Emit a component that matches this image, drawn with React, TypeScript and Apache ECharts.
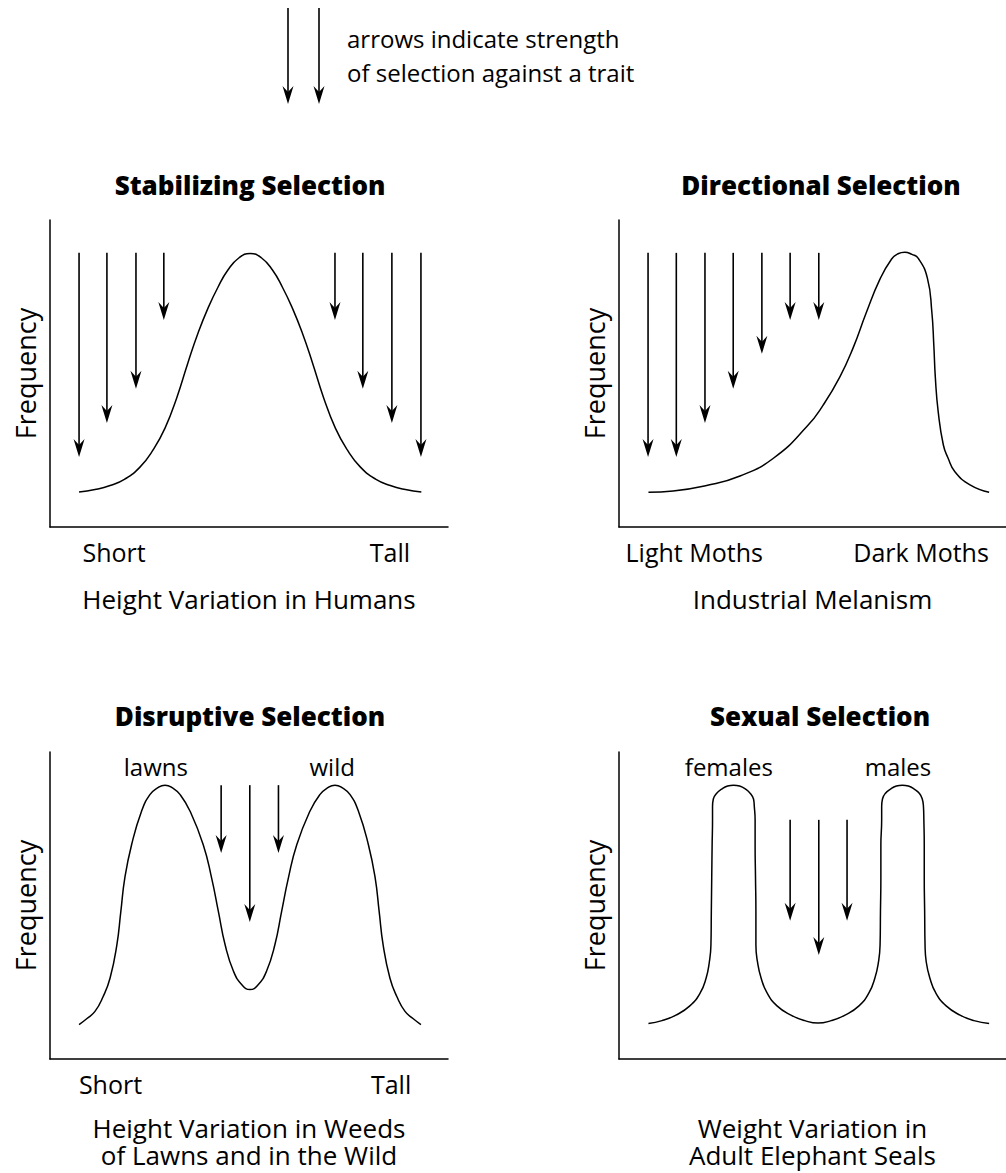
import React, { useEffect, useRef } from 'react';
import * as echarts from 'echarts';

const FONT = "'Open Sans', 'Noto Sans', sans-serif";

// ---- texts ----
const panelTitles = ['Stabilizing Selection', 'Directional Selection', 'Disruptive Selection', 'Sexual Selection'];
const panelCaptions = [
  'Height Variation in Humans',
  'Industrial Melanism',
  'Height Variation in Weeds\nof Lawns and in the Wild',
  'Weight Variation in\nAdult Elephant Seals',
];
const yAxisName = 'Frequency';
const legendText = 'arrows indicate strength\nof selection against a trait';

// ---- x-axis tick labels (value positions + texts) ----
const tickPositions = [[16.1, 85.4], [18.9, 75.9], [15.2, 85.7], []];
const tickTexts = [['Short', 'Tall'], ['Light Moths', 'Dark Moths'], ['Short', 'Tall'], []];

// ---- curves [trait value, frequency] ----
const stabilizingCurve = [
  [7.3, 11.4], [11.3, 12.2], [15.1, 13.5], [18.8, 15.6], [22.6, 19.5], [25.9, 25.1],
  [28.9, 32.2], [31.9, 42.3], [34.7, 53.7], [37.2, 63.2], [39.7, 71.3], [42.2, 78.1],
  [44.7, 83.7], [47.5, 87.7], [50.3, 89.1],
  [53.1, 87.7], [55.9, 83.7], [58.4, 78.1], [60.9, 71.3], [63.4, 63.2], [65.9, 53.7],
  [68.7, 42.3], [71.7, 32.2], [74.7, 25.1], [78.0, 19.5], [81.8, 15.6], [85.5, 13.5],
  [89.3, 12.2], [93.3, 11.4],
];
const directionalCurve = [
  [7.4, 11.3], [13.6, 11.7], [22.0, 13.5], [30.4, 16.6], [38.8, 22.4], [47.2, 32.7],
  [51.3, 39.7], [55.5, 48.9], [58.9, 58.6], [62.1, 69.7], [65.6, 80.8], [68.5, 87.3],
  [70.1, 89.0], [71.8, 89.5], [73.6, 88.8], [75.2, 87.5], [77.5, 81.0], [78.6, 70.1],
  [79.1, 59.3], [79.5, 48.4], [80.2, 37.6], [81.5, 26.7], [82.7, 22.4], [84.4, 18.0],
  [88.2, 13.7], [93.0, 11.3],
];
const disruptiveCurve = [
  [7.3, 11.2], [9.3, 13.2], [11.3, 15.5], [13.3, 20.2], [15.1, 26.4], [16.8, 37.2],
  [17.8, 48.1], [18.8, 59.0], [20.5, 69.8], [23.0, 80.7], [25.1, 86.1], [27.0, 88.3],
  [28.9, 89.2], [30.8, 88.3], [32.7, 86.1], [35.2, 80.7], [38.5, 69.8], [40.6, 59.0],
  [42.3, 48.1], [44.0, 37.2], [46.1, 28.6], [48.2, 24.2], [50.25, 22.6],
  [52.3, 24.2], [54.4, 28.6], [56.5, 37.2], [58.2, 48.1], [59.9, 59.0], [62.0, 69.8],
  [65.3, 80.7], [67.8, 86.1], [69.7, 88.3], [71.6, 89.2], [73.5, 88.3], [75.4, 86.1],
  [77.5, 80.7], [80.0, 69.8], [81.7, 59.0], [82.7, 48.1], [83.7, 37.2], [85.4, 26.4],
  [87.2, 20.2], [89.2, 15.5], [91.2, 13.2], [93.2, 11.2],
];
const sexualCurve = [
  [7.4, 11.6], [10.8, 12.5], [14.3, 14.3], [17.8, 17.3], [20.4, 21.5], [21.9, 26.4],
  [22.7, 31.6], [23.1, 37.1], [23.2, 48.2], [23.3, 59.0], [23.4, 69.7], [23.5, 77.9],
  [23.5, 82.2], [23.7, 84.7], [24.5, 86.5], [25.8, 87.9], [27.3, 88.9], [28.8, 89.2],
  [30.3, 88.9], [31.8, 87.9], [33.0, 86.5], [33.8, 84.7], [34.0, 82.2], [34.2, 77.9],
  [34.2, 69.7], [34.3, 59.0], [34.4, 48.2], [34.4, 37.1], [34.8, 31.6], [35.7, 26.4],
  [37.2, 21.5], [39.7, 17.3], [43.2, 14.3], [46.7, 12.5], [50.0, 11.7],
  [53.3, 12.5], [56.8, 14.3], [60.3, 17.3], [62.8, 21.5], [64.3, 26.4], [65.2, 31.6],
  [65.6, 37.1], [65.7, 48.2], [65.8, 59.0], [65.8, 69.7], [66.0, 77.9], [66.0, 82.2],
  [66.2, 84.7], [66.9, 86.5], [68.2, 87.9], [69.7, 88.9], [71.2, 89.2], [72.7, 88.9],
  [74.2, 87.9], [75.5, 86.5], [76.2, 84.7], [76.5, 82.2], [76.6, 77.9], [76.7, 69.7],
  [76.7, 59.0], [76.8, 48.2], [76.9, 37.1], [77.2, 31.6], [78.1, 26.4], [79.6, 21.5],
  [82.2, 17.3], [85.7, 14.3], [89.2, 12.5], [93.0, 11.6],
];

// ---- selection arrows [trait value, arrow start, arrow tip] ----
const stabilizingArrows = [
  [7.3, 89.3, 22.8], [14.3, 89.3, 33.9], [21.6, 89.3, 45.0], [28.6, 89.3, 67.4],
  [71.6, 89.3, 67.4], [78.6, 89.3, 45.0], [85.9, 89.3, 33.9], [93.2, 89.3, 22.8],
];
const directionalArrows = [
  [7.3, 89.3, 22.8], [14.4, 89.3, 22.8], [21.6, 89.3, 33.9], [28.7, 89.3, 45.0],
  [35.9, 89.3, 56.4], [43.0, 89.3, 67.4], [50.2, 89.3, 67.4],
];
const disruptiveArrows = [[43.0, 89.2, 67.1], [50.2, 89.2, 44.6], [57.4, 89.2, 67.1]];
const sexualArrows = [[43.0, 77.9, 45.0], [50.2, 77.9, 33.9], [57.3, 77.9, 45.0]];

// ---- peak labels ----
const disruptivePeakLabels = [
  { name: 'lawns', value: [26.6, 95.4] },
  { name: 'wild', value: [70.9, 95.4] },
];
const sexualPeakLabels = [
  { name: 'females', value: [27.6, 95.4] },
  { name: 'males', value: [70.1, 95.4] },
];

const curves = [stabilizingCurve, directionalCurve, disruptiveCurve, sexualCurve];
const arrows = [stabilizingArrows, directionalArrows, disruptiveArrows, sexualArrows];

// layout (right-hand panels run to the page edge, same scale per unit)
const gridRects = [
  { left: 50, top: 220, width: 398, height: 307 },
  { left: 619, top: 220, width: 387, height: 307 },
  { left: 50, top: 752, width: 398, height: 307 },
  { left: 619, top: 752, width: 387, height: 307 },
];
const xMax = [100, 97.24, 100, 97.24];
const captionGap = [58, 58, 55, 55];
const titlePos = [[250, 185], [821, 185], [250, 716], [820, 716]];

function renderArrow(params: any, api: any) {
  const top = api.coord([api.value(0), api.value(1)]);
  const tip = api.coord([api.value(0), api.value(2)]);
  const x = tip[0];
  const y = tip[1];
  return {
    type: 'group',
    children: [
      {
        type: 'line',
        shape: { x1: top[0], y1: top[1], x2: x, y2: y - 8 },
        style: { stroke: '#000', lineWidth: 1.6 },
      },
      {
        type: 'polygon',
        shape: { points: [[x, y], [x - 5.5, y - 18], [x, y - 12], [x + 5.5, y - 18]] },
        style: { fill: '#000' },
      },
    ],
  };
}

function legendArrow(x: number, y0: number, y1: number) {
  return [
    { type: 'line', shape: { x1: x, y1: y0, x2: x, y2: y1 - 8 }, style: { stroke: '#000', lineWidth: 1.6 } },
    {
      type: 'polygon',
      shape: { points: [[x, y1], [x - 5.5, y1 - 18], [x, y1 - 12], [x + 5.5, y1 - 18]] },
      style: { fill: '#000' },
    },
  ];
}

export default function App() {
  const ref = useRef<HTMLDivElement>(null);

  useEffect(() => {
    if (!ref.current) return;
    const chart = echarts.init(ref.current, undefined, { renderer: 'svg' });

    const axisLine = { show: true, onZero: false, lineStyle: { color: '#000', width: 1.5 } };

    const xAxis = gridRects.map((_, i) => ({
      type: 'value',
      gridIndex: i,
      min: 0,
      max: xMax[i],
      axisLine,
      axisTick: { show: false },
      splitLine: { show: false },
      axisLabel: tickPositions[i].length
        ? {
            show: true,
            customValues: tickPositions[i],
            formatter: (v: number) => {
              const k = tickPositions[i].indexOf(v);
              return k >= 0 ? tickTexts[i][k] : '';
            },
            color: '#000',
            fontSize: 25,
            lineHeight: 25,
            fontFamily: FONT,
            margin: 12,
          }
        : { show: false },
      name: panelCaptions[i],
      nameLocation: 'middle',
      nameGap: captionGap[i],
      nameTextStyle: { color: '#000', fontSize: 26, lineHeight: 27, fontFamily: FONT },
    }));

    const yAxis = gridRects.map((_, i) => ({
      type: 'value',
      gridIndex: i,
      min: 0,
      max: 100,
      axisLine,
      axisTick: { show: false },
      axisLabel: { show: false },
      splitLine: { show: false },
      name: yAxisName,
      nameLocation: 'middle',
      nameRotate: 90,
      nameGap: 11,
      nameTextStyle: { color: '#000', fontSize: 27, lineHeight: 27, fontFamily: FONT },
    }));

    const series: any[] = [];
    curves.forEach((c, i) => {
      series.push({
        type: 'line',
        xAxisIndex: i,
        yAxisIndex: i,
        data: c,
        smooth: 0.5,
        showSymbol: false,
        symbol: 'none',
        lineStyle: { color: '#000', width: 1.5 },
        clip: false,
      });
    });
    arrows.forEach((a, i) => {
      series.push({
        type: 'custom',
        xAxisIndex: i,
        yAxisIndex: i,
        data: a,
        encode: { x: 0, y: [1, 2] },
        renderItem: renderArrow,
        clip: false,
      });
    });
    [[2, disruptivePeakLabels], [3, sexualPeakLabels]].forEach(([gi, labels]: any) => {
      series.push({
        type: 'scatter',
        xAxisIndex: gi,
        yAxisIndex: gi,
        data: labels,
        symbolSize: 0,
        itemStyle: { color: '#000', opacity: 1 },
        label: {
          show: true,
          position: 'inside',
          formatter: '{b}',
          color: '#000',
          opacity: 1,
          textBorderWidth: 0,
          textBorderColor: 'transparent',
          fontSize: 24,
          fontFamily: FONT,
        },
      });
    });

    const graphic: any[] = [
      ...legendArrow(288, 8, 104),
      ...legendArrow(319, 8, 104),
      {
        type: 'text',
        x: 347,
        y: 21,
        style: {
          text: legendText,
          fill: '#000',
          fontSize: 24,
          lineHeight: 34,
          fontFamily: FONT,
          align: 'left',
          verticalAlign: 'top',
        },
      },
      ...panelTitles.map((t, i) => ({
        type: 'text',
        x: titlePos[i][0],
        y: titlePos[i][1],
        style: {
          text: t,
          fill: '#000',
          fontSize: 26,
          fontWeight: 800,
          fontFamily: FONT,
          align: 'center',
          verticalAlign: 'middle',
        },
      })),
    ];

    chart.setOption({
      animation: false,
      backgroundColor: '#fff',
      grid: gridRects.map((g) => ({ ...g, containLabel: false })),
      xAxis,
      yAxis,
      series,
      graphic,
    });

    return () => chart.dispose();
  }, []);

  return (
    <div
      ref={ref}
      style={{ position: 'absolute', left: 0, top: 0, width: 1006, height: 1173 }}
    />
  );
}
